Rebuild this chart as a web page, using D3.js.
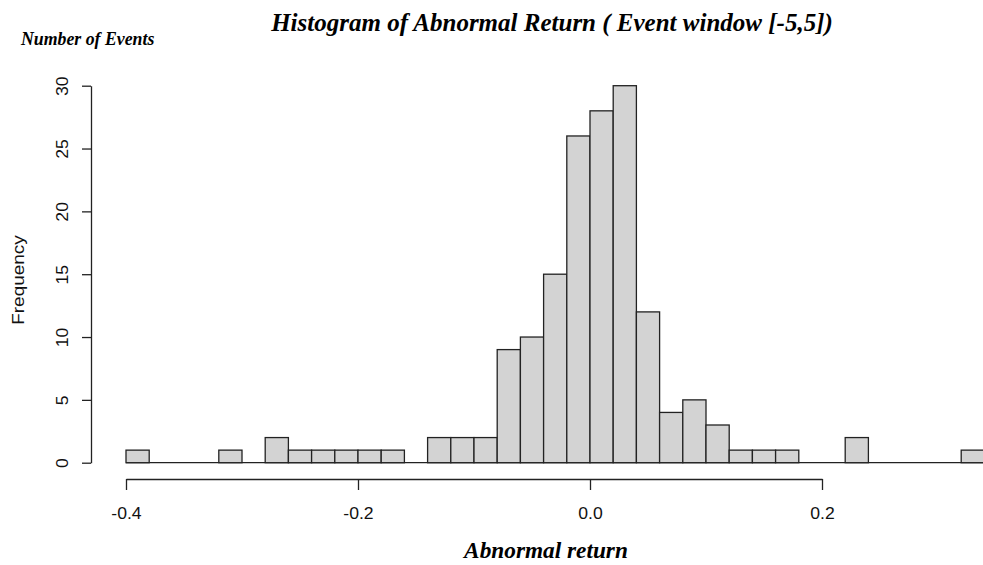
<!DOCTYPE html>
<html><head><meta charset="utf-8">
<script src="https://cdn.jsdelivr.net/npm/d3@7"></script>
<style>body{margin:0;background:#fff;}svg{display:block;}</style>
</head><body>
<svg id="c" width="983" height="565"></svg>
<script>
// Histogram bins (width 0.02), left edges and counts
const binStarts = [-0.40,-0.38,-0.36,-0.34,-0.32,-0.30,-0.28,-0.26,-0.24,-0.22,-0.20,-0.18,-0.16,-0.14,-0.12,-0.10,-0.08,-0.06,-0.04,-0.02,0.00,0.02,0.04,0.06,0.08,0.10,0.12,0.14,0.16,0.18,0.20,0.22,0.24,0.26,0.28,0.30,0.32];
const counts    = [1,0,0,0,1,0,2,1,1,1,1,1,0,2,2,2,9,10,15,26,28,30,12,4,5,3,1,1,1,0,0,2,0,0,0,0,1];
const binWidth = 0.02;
const xTicks = [-0.4,-0.2,0.0,0.2];
const xTickLabels = ["-0.4","-0.2","0.0","0.2"];
const yTicks = [0,5,10,15,20,25,30];

const SANS = "Liberation Sans, Arial, Helvetica, sans-serif";
const SERIF = "Liberation Serif, Times New Roman, serif";
const svg = d3.select("#c");
const x = d3.scaleLinear().domain([-0.4,0.2]).range([126,822]);
const y = d3.scaleLinear().domain([0,30]).range([462.7,85.7]);
const bins = binStarts.map((s,i)=>({s,c:counts[i]}));

// zero baseline (zero-height bars)
svg.append("line")
  .attr("x1",x(d3.min(binStarts))).attr("x2",x(d3.max(binStarts)+binWidth))
  .attr("y1",y(0)).attr("y2",y(0)).attr("stroke","#222").attr("stroke-width",1.3);

// bars
svg.append("g").selectAll("rect").data(bins.filter(d=>d.c>0))
  .join("rect")
  .attr("x",d=>x(d.s)).attr("width",d=>x(d.s+binWidth)-x(d.s))
  .attr("y",d=>y(d.c)).attr("height",d=>y(0)-y(d.c))
  .attr("fill","#d3d3d3").attr("stroke","#222").attr("stroke-width",1.3);

// x axis
const xAxis = d3.axisBottom(x).tickValues(xTicks).tickSize(11).tickSizeOuter(0)
  .tickFormat((d,i)=>xTickLabels[i]);
const gx = svg.append("g").attr("transform","translate(0,479)").call(xAxis);
gx.select(".domain").attr("stroke","#222").attr("stroke-width",1.3);
gx.selectAll(".tick line").attr("stroke","#222").attr("stroke-width",1.3);
gx.selectAll(".tick text").attr("font-family",SANS)
  .attr("font-size",16).attr("fill","#111").attr("dy",null).attr("y",null)
  .attr("dominant-baseline","central").attr("transform","translate(0,35) scale(1.1,1)");

// y axis
const yAxis = d3.axisLeft(y).tickValues(yTicks).tickSize(9).tickSizeOuter(0);
const gy = svg.append("g").attr("transform","translate(91,0)").call(yAxis);
gy.select(".domain").attr("stroke","#222").attr("stroke-width",1.3);
gy.selectAll(".tick line").attr("stroke","#222").attr("stroke-width",1.3);
gy.selectAll(".tick text").attr("font-family",SANS)
  .attr("font-size",16).attr("fill","#111")
  .attr("x",null).attr("dy",null).attr("text-anchor","middle")
  .attr("transform","translate(-28,0) rotate(-90) scale(1.1,1)").attr("dominant-baseline","central");

// labels
svg.append("text").attr("transform","translate(18,280) rotate(-90) scale(1.15,1)")
  .attr("text-anchor","middle").attr("dominant-baseline","central")
  .attr("font-family",SANS).attr("font-size",16.5).attr("fill","#111")
  .text("Frequency");

svg.append("text").attr("x",552).attr("y",31).attr("text-anchor","middle")
  .attr("font-family",SERIF).attr("font-weight","bold").attr("font-style","italic")
  .attr("font-size",25).attr("fill","#000")
  .text("Histogram of Abnormal Return ( Event window [-5,5])");

svg.append("text").attr("x",21).attr("y",45)
  .attr("font-family",SERIF).attr("font-weight","bold").attr("font-style","italic")
  .attr("font-size",17.8).attr("fill","#000")
  .text("Number of Events");

svg.append("text").attr("x",546).attr("y",558).attr("text-anchor","middle")
  .attr("font-family",SERIF).attr("font-weight","bold").attr("font-style","italic")
  .attr("font-size",23.3).attr("fill","#000")
  .text("Abnormal return");
</script>
</body></html>
